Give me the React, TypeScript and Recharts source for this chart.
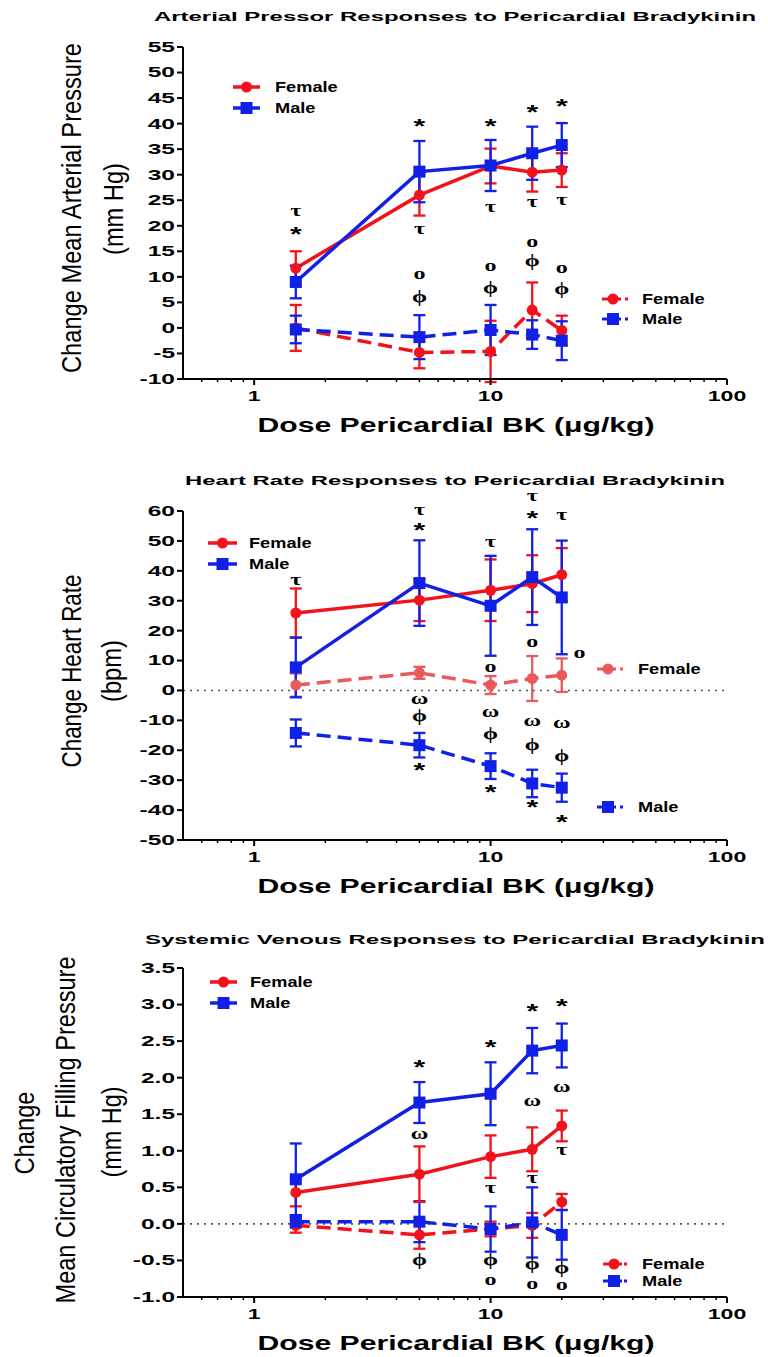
import React from 'react';
import { LineChart, Line, XAxis, YAxis, ErrorBar, ReferenceLine, ReferenceDot } from 'recharts';

const SANS = "'Liberation Sans', Arial, Helvetica, sans-serif";
const SERIF = "'Liberation Serif', 'DejaVu Serif', 'Times New Roman', serif";
const RED = '#f2121c';
const PINK = '#e85a5c';
const BLUE = '#1020e6';

const doses = [1.5, 5, 10, 15, 20];
const xTicks = [0.6, 0.7, 0.8, 0.9, 1, 2, 3, 4, 5, 6, 7, 8, 9, 10, 20, 30, 40, 50, 60, 70, 80, 90, 100];
const xMajor = [1, 10, 100];

// mean arterial pressure (mm Hg)
const mapFemale = [11.7, 26.0, 31.7, 30.5, 30.9];
const mapFemaleErr = [3.3, 4.0, 3.4, 3.8, 3.3];
const mapMale = [9.0, 30.6, 31.8, 34.2, 35.8];
const mapMaleErr = [3.2, 6.0, 5.0, 5.2, 4.3];
const mapFemale2 = [0.0, -4.8, -4.6, 3.5, -0.5];
const mapFemale2Err = [4.5, 3.1, 6.0, 5.4, 2.9];
const mapMale2 = [-0.3, -1.8, -0.4, -1.3, -2.5];
const mapMale2Err = [2.7, 4.3, 4.9, 2.8, 3.8];
const mapTicks = [-10, -5, 0, 5, 10, 15, 20, 25, 30, 35, 40, 45, 50, 55];

// heart rate (bpm)
const hrFemale = [25.9, 30.2, 33.5, 35.7, 38.7];
const hrFemaleErr = [8.2, 7.0, 10.3, 9.5, 8.9];
const hrMale = [7.7, 35.9, 28.3, 37.9, 31.1];
const hrMaleErr = [10.0, 14.3, 16.7, 16.0, 19.0];
const hrFemale2 = [1.8, 5.9, 1.8, 4.0, 5.1];
const hrFemale2Err = [3.9, 2.0, 3.0, 7.5, 5.6];
const hrMale2 = [-14.2, -18.3, -25.3, -31.1, -32.5];
const hrMale2Err = [4.5, 4.1, 4.3, 4.6, 4.7];
const hrTicks = [-50, -40, -30, -20, -10, 0, 10, 20, 30, 40, 50, 60];

// mean circulatory filling pressure (mm Hg)
const mcfpFemale = [0.43, 0.68, 0.92, 1.02, 1.34];
const mcfpFemaleErr = [0.19, 0.38, 0.29, 0.30, 0.21];
const mcfpMale = [0.61, 1.66, 1.78, 2.37, 2.44];
const mcfpMaleErr = [0.49, 0.28, 0.43, 0.31, 0.30];
const mcfpFemale2 = [-0.02, -0.15, -0.07, -0.02, 0.30];
const mcfpFemale2Err = [0.10, 0.19, 0.10, 0.17, 0.11];
const mcfpMale2 = [0.03, 0.03, -0.07, 0.02, -0.15];
const mcfpMale2Err = [0.08, 0.28, 0.31, 0.48, 0.34];
const mcfpTicks = [-1, -0.5, 0, 0.5, 1, 1.5, 2, 2.5, 3, 3.5];

// significance symbols: [dose, value, symbol]
type Mark = [number, number, string];
const mapMarks: Mark[] = [
  [1.5, 22.7, 'τ'], [1.5, 19.2, '*'],
  [5, 40.3, '*'], [5, 19.2, 'τ'], [5, 10.4, 'ο'], [5, 5.9, 'ϕ'],
  [10, 40.3, '*'], [10, 23.5, 'τ'], [10, 11.8, 'ο'], [10, 7.6, 'ϕ'],
  [15, 43.0, '*'], [15, 24.4, 'τ'], [15, 16.6, 'ο'], [15, 12.8, 'ϕ'],
  [20, 44.2, '*'], [20, 24.9, 'τ'], [20, 11.5, 'ο'], [20, 7.4, 'ϕ'],
];
const hrMarks: Mark[] = [
  [1.5, 36.6, 'τ'],
  [5, 60.0, 'τ'], [5, 54.9, '*'], [5, -3.2, 'ω'], [5, -8.8, 'ϕ'], [5, -25.3, '*'],
  [10, 49.4, 'τ'], [10, 7.3, 'ο'], [10, -7.5, 'ω'], [10, -14.9, 'ϕ'], [10, -32.7, '*'],
  [15, 64.7, 'τ'], [15, 59.1, '*'], [15, 15.7, 'ο'], [15, -10.7, 'ω'], [15, -18.6, 'ϕ'], [15, -37.7, '*'],
  [20, 58.2, 'τ'], [23.8, 12.0, 'ο'], [20, -11.4, 'ω'], [20, -22.2, 'ϕ'], [20, -42.8, '*'],
];
const mcfpMarks: Mark[] = [
  [5, 2.20, '*'], [5, 1.22, 'ω'], [5, -0.51, 'ϕ'],
  [10, 2.47, '*'], [10, 0.47, 'τ'], [10, -0.51, 'ϕ'], [10, -0.79, 'ο'],
  [15, 2.97, '*'], [15, 1.67, 'ω'], [15, 0.61, 'τ'], [15, -0.56, 'ϕ'], [15, -0.84, 'ο'],
  [20, 3.03, '*'], [20, 1.86, 'ω'], [20, 1.0, 'τ'], [20, -0.62, 'ϕ'], [20, -0.85, 'ο'],
];

type Series = { vals: number[]; errs: number[]; color: string; square: boolean; dashed: boolean };

const circleDot = (color: string) => (p: any) =>
  <circle key={`c${p.index}`} cx={p.cx} cy={p.cy} r={5.5} fill={color} />;
const squareDot = (color: string) => (p: any) =>
  <rect key={`s${p.index}`} x={p.cx - 6} y={p.cy - 6} width={12} height={12} fill={color} />;

function XTick(props: any) {
  const { x, y, payload } = props;
  const v = payload.value;
  const major = xMajor.includes(v);
  return (
    <g>
      <line x1={x} x2={x} y1={y} y2={y + (major ? 6 : 3)} stroke="#000" strokeWidth={major ? 2 : 1.5} />
      {major && (
        <text transform={`translate(${x},${y + 17}) scale(1.65,1)`} textAnchor="middle" dominantBaseline="central"
          fontFamily={SANS} fontWeight="bold" fontSize={14} fill="#000">{v}</text>
      )}
    </g>
  );
}

const makeYTick = (fmt: (v: number) => string) => (props: any) => (
  <text transform={`translate(${props.x},${props.y}) scale(1.75,1)`} textAnchor="end" dominantBaseline="central"
    fontFamily={SANS} fontWeight="bold" fontSize={14} fill="#000">{fmt(props.payload.value)}</text>
);

const markShape = (t: string) => (p: any) => {
  const star = t === '*';
  const fs = star ? 20 : 16;
  const lift = star ? 0.55 : 0.24;
  return (
    <text transform={`translate(${p.cx},${p.cy + lift * fs}) scale(1.5,1)`} textAnchor="middle"
      fontFamily={star ? SANS : SERIF} fontWeight="bold" fontSize={fs} fill="#000">{t}</text>
  );
};

function LegendRow({ x1, x2, y, color, square, dashed, text, tx }: any) {
  const mx = dashed ? x1 + 11 : (x1 + x2) / 2;
  return (
    <g>
      {dashed ? (
        <>
          <line x1={x1} x2={x1 + 19} y1={y} y2={y} stroke={color} strokeWidth={3} />
          <line x1={x2 - 3} x2={x2} y1={y} y2={y} stroke={color} strokeWidth={3} />
        </>
      ) : (
        <line x1={x1} x2={x2} y1={y} y2={y} stroke={color} strokeWidth={3.5} />
      )}
      {square
        ? <rect x={mx - 6} y={y - 6} width={12} height={12} fill={color} />
        : <circle cx={mx} cy={y} r={5.5} fill={color} />}
      <text transform={`translate(${tx},${y}) scale(1.3,1)`} dominantBaseline="central"
        fontFamily={SANS} fontWeight="bold" fontSize={14} fill="#000">{text}</text>
    </g>
  );
}

type YTitle = { text: string; x: number; y: number; len: number };

function Panel(props: {
  height: number; plotTop: number; plotBottom: number;
  yDomain: [number, number]; yTicks: number[]; yFmt: (v: number) => string;
  series: Series[]; marks: Mark[]; zeroLine: boolean;
  title: string; titleY: number; titleLen: number; yTitles: YTitle[];
  legendUL: { x1: number; x2: number; tx: number; y: number };
  legendLR: { x1: number; x2: number; tx: number; yF: number; yM: number };
  femaleDashColor?: string;
}) {
  const { height, plotTop, plotBottom, series, marks } = props;
  const X_H = 20;
  const rows = doses.map((d, i) => {
    const r: any = { dose: d };
    series.forEach((s, k) => { r['s' + k] = s.vals[i]; r['e' + k] = s.errs[i]; });
    return r;
  });
  const ul = props.legendUL;
  const lr = props.legendLR;
  return (
    <div style={{ position: 'relative', width: 768, height }}>
      <LineChart width={768} height={height} data={rows}
        margin={{ top: plotTop, right: 41, left: 0, bottom: height - plotBottom - X_H }}>
        <XAxis dataKey="dose" type="number" scale="log" domain={[0.5, 100]} allowDataOverflow ticks={xTicks}
          interval={0} tick={XTick} tickLine={false} tickSize={0} tickMargin={0} height={X_H}
          axisLine={{ stroke: '#000', strokeWidth: 2 }} />
        <YAxis type="number" domain={props.yDomain} allowDataOverflow ticks={props.yTicks} interval={0} width={183}
          tick={makeYTick(props.yFmt)} tickSize={6} tickMargin={2}
          tickLine={{ stroke: '#000', strokeWidth: 2 }} axisLine={{ stroke: '#000', strokeWidth: 2 }} />
        {props.zeroLine && <ReferenceLine y={0} stroke="#555" strokeWidth={1.6} strokeDasharray="2 5" />}
        {series.map((s, k) => (
          <Line key={k} dataKey={'s' + k} type="linear" stroke={s.color} strokeWidth={3.5}
            strokeDasharray={s.dashed ? '14 7' : undefined} isAnimationActive={false} activeDot={false}
            dot={s.square ? squareDot(s.color) : circleDot(s.color)}>
            <ErrorBar dataKey={'e' + k} width={6} strokeWidth={2.3} stroke={s.color} direction="y" />
          </Line>
        ))}
        {marks.map(([x, y, t], i) => (
          <ReferenceDot key={i} x={x} y={y} r={0} ifOverflow="visible" shape={markShape(t)} />
        ))}
      </LineChart>
      <svg width={768} height={height} style={{ position: 'absolute', left: 0, top: 0, pointerEvents: 'none' }}>
        <text x={455} y={props.titleY} textAnchor="middle" textLength={props.titleLen} lengthAdjust="spacingAndGlyphs"
          fontFamily={SANS} fontWeight="bold" fontSize={12.5} fill="#000">{props.title}</text>
        {props.yTitles.map((t, i) => (
          <text key={i} transform={`translate(${t.x},${t.y}) rotate(-90) scale(1,1.17)`} textAnchor="middle"
            textLength={t.len} lengthAdjust="spacingAndGlyphs" fontFamily={SANS} fontSize={24} fill="#000">{t.text}</text>
        ))}
        <text x={456} y={plotBottom + 45} textAnchor="middle" dominantBaseline="central" textLength={397}
          lengthAdjust="spacingAndGlyphs" fontFamily={SANS} fontWeight="bold" fontSize={21} fill="#000">
          Dose Pericardial BK (μg/kg)
        </text>
        <LegendRow x1={ul.x1} x2={ul.x2} y={ul.y} tx={ul.tx} color={RED} square={false} dashed={false} text="Female" />
        <LegendRow x1={ul.x1} x2={ul.x2} y={ul.y + 21} tx={ul.tx} color={BLUE} square dashed={false} text="Male" />
        <LegendRow x1={lr.x1} x2={lr.x2} y={lr.yF} tx={lr.tx} color={props.femaleDashColor || RED} square={false} dashed text="Female" />
        <LegendRow x1={lr.x1} x2={lr.x2} y={lr.yM} tx={lr.tx} color={BLUE} square dashed text="Male" />
      </svg>
    </div>
  );
}

const int = (v: number) => String(v);
const oneDec = (v: number) => v.toFixed(1);

export default function App() {
  return (
    <div style={{ position: 'absolute', left: 0, top: 0, width: 768, background: '#fff' }}>
      <style>{'body{margin:0;background:#fff}'}</style>
      <Panel height={450} plotTop={47} plotBottom={379} yDomain={[-10, 55]} yTicks={mapTicks} yFmt={int}
        series={[
          { vals: mapFemale, errs: mapFemaleErr, color: RED, square: false, dashed: false },
          { vals: mapMale, errs: mapMaleErr, color: BLUE, square: true, dashed: false },
          { vals: mapFemale2, errs: mapFemale2Err, color: RED, square: false, dashed: true },
          { vals: mapMale2, errs: mapMale2Err, color: BLUE, square: true, dashed: true },
        ]}
        marks={mapMarks} zeroLine={false}
        title="Arterial Pressor Responses to Pericardial Bradykinin" titleY={21} titleLen={602}
        yTitles={[
          { text: 'Change Mean Arterial Pressure', x: 81, y: 208, len: 330 },
          { text: '(mm Hg)', x: 123, y: 209, len: 92 },
        ]}
        legendUL={{ x1: 233, x2: 260, tx: 275, y: 87 }}
        legendLR={{ x1: 602, x2: 628, tx: 642, yF: 299, yM: 319 }}
      />
      <Panel height={455} plotTop={61} plotBottom={390} yDomain={[-50, 60]} yTicks={hrTicks} yFmt={int}
        series={[
          { vals: hrFemale2, errs: hrFemale2Err, color: PINK, square: false, dashed: true },
          { vals: hrMale2, errs: hrMale2Err, color: BLUE, square: true, dashed: true },
          { vals: hrFemale, errs: hrFemaleErr, color: RED, square: false, dashed: false },
          { vals: hrMale, errs: hrMaleErr, color: BLUE, square: true, dashed: false },
        ]}
        marks={hrMarks} zeroLine
        title="Heart Rate Responses to Pericardial Bradykinin" titleY={35} titleLen={540}
        yTitles={[
          { text: 'Change Heart Rate', x: 81, y: 221, len: 193 },
          { text: '(bpm)', x: 121, y: 221, len: 62 },
        ]}
        legendUL={{ x1: 208, x2: 237, tx: 249, y: 93 }}
        legendLR={{ x1: 597, x2: 623, tx: 638, yF: 219, yM: 357 }}
        femaleDashColor={PINK}
      />
      <Panel height={452} plotTop={63} plotBottom={392} yDomain={[-1, 3.5]} yTicks={mcfpTicks} yFmt={oneDec}
        series={[
          { vals: mcfpFemale2, errs: mcfpFemale2Err, color: RED, square: false, dashed: true },
          { vals: mcfpMale2, errs: mcfpMale2Err, color: BLUE, square: true, dashed: true },
          { vals: mcfpFemale, errs: mcfpFemaleErr, color: RED, square: false, dashed: false },
          { vals: mcfpMale, errs: mcfpMaleErr, color: BLUE, square: true, dashed: false },
        ]}
        marks={mcfpMarks} zeroLine
        title="Systemic Venous Responses to Pericardial Bradykinin" titleY={39} titleLen={620}
        yTitles={[
          { text: 'Change', x: 34, y: 228, len: 83 },
          { text: 'Mean Circulatory Filling Pressure', x: 75, y: 225, len: 347 },
          { text: '(mm Hg)', x: 121, y: 227, len: 91 },
        ]}
        legendUL={{ x1: 210, x2: 237, tx: 250, y: 77 }}
        legendLR={{ x1: 603, x2: 627, tx: 642, yF: 359, yM: 376 }}
      />
    </div>
  );
}
